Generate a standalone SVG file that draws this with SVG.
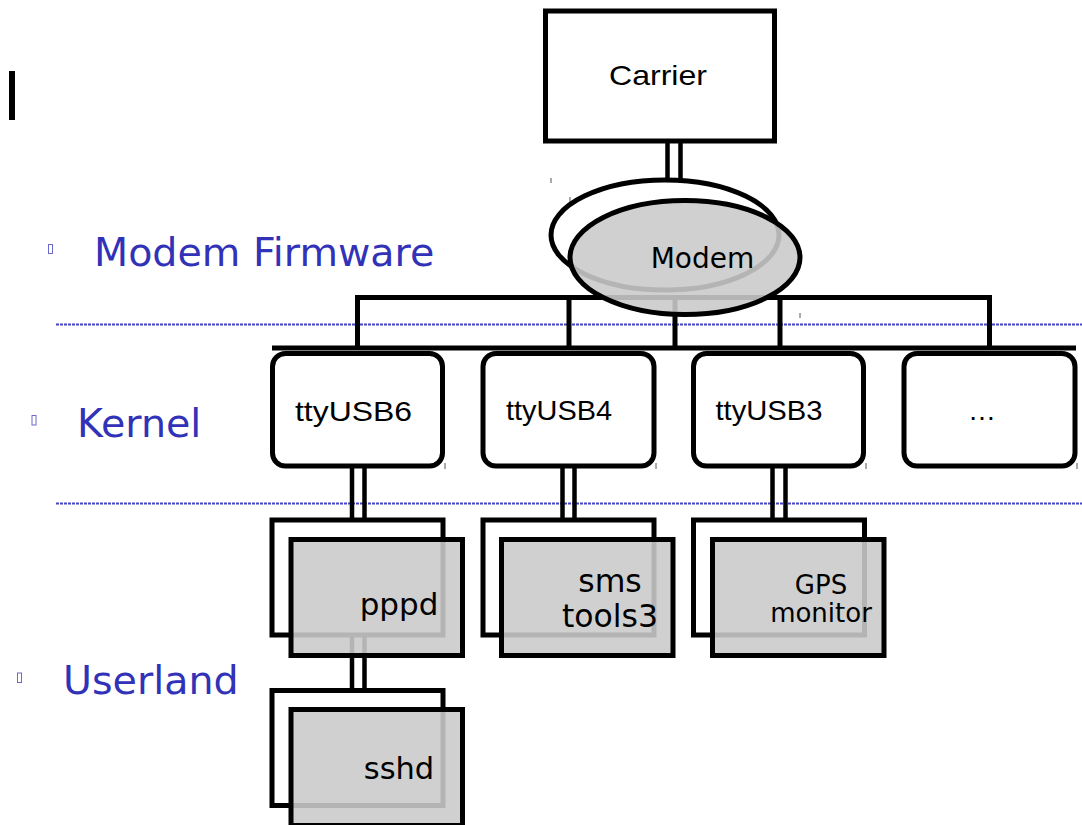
<svg xmlns="http://www.w3.org/2000/svg" width="1082" height="825" viewBox="0 0 1082 825">
<style>
.lbl{font-family:"DejaVu Sans",sans-serif;fill:#3232b8;font-size:39.6px}
.bul{fill:none;stroke:#6a6ad0;stroke-width:1}
.sep{stroke:#4646c4;stroke-width:2;stroke-dasharray:3 1;fill:none}
.ln{stroke:#000;stroke-width:5;fill:none}
.dl{stroke:#000;stroke-width:4.5;fill:none}
.box{fill:#fff;stroke:#000;stroke-width:5}
.back{fill:#fff;stroke:#000;stroke-width:5}
.front{fill:#cacaca;fill-opacity:0.89;stroke:#000;stroke-width:5}
.ta{font-family:"Liberation Sans",Arial,sans-serif;font-size:28px;fill:#000}
.td{font-family:"DejaVu Sans",sans-serif;fill:#000}
.tick{stroke:#555;stroke-width:1}
</style>
<rect x="0" y="0" width="1082" height="825" fill="#fff"/>
<rect x="9" y="71" width="6" height="49" fill="#000"/>
<g id="separators">
<line class="sep" x1="56" y1="324.5" x2="1082" y2="324.5"/>
<line class="sep" x1="56" y1="503.5" x2="1082" y2="503.5"/>
</g>
<g id="labels">
<rect class="bul" x="48.5" y="244.5" width="4" height="9"/>
<text class="lbl" x="94" y="266">Modem Firmware</text>
<rect class="bul" x="32" y="415.5" width="4" height="9.5"/>
<text class="lbl" x="77" y="437">Kernel</text>
<rect class="bul" x="17.5" y="673" width="4" height="9.5"/>
<text class="lbl" x="63" y="694">Userland</text>
</g>
<g id="ticks">
<line class="tick" x1="551" y1="178" x2="551" y2="183"/>
<line class="tick" x1="570" y1="197" x2="570" y2="202"/>
<line class="tick" x1="800" y1="313" x2="800" y2="318"/>
<line class="tick" x1="445" y1="463" x2="445" y2="469"/>
<line class="tick" x1="656" y1="463" x2="656" y2="469"/>
<line class="tick" x1="866" y1="463" x2="866" y2="469"/>
<line class="tick" x1="1077" y1="463" x2="1077" y2="469"/>
</g>
<g id="carrier">
<rect class="box" x="545.5" y="11" width="229" height="130" stroke-width="4.5"/>
<text class="ta" x="609" y="85" textLength="98" lengthAdjust="spacingAndGlyphs">Carrier</text>
</g>
<g id="connectors">
<line class="dl" x1="667.5" y1="141" x2="667.5" y2="180"/>
<line class="dl" x1="680.5" y1="141" x2="680.5" y2="180"/>
<polyline class="ln" points="357.5,348 357.5,297.5 989.5,297.5 989.5,348"/>
<line class="ln" x1="569" y1="297.5" x2="569" y2="348"/>
<line class="ln" x1="675" y1="297.5" x2="675" y2="348"/>
<line class="ln" x1="780" y1="297.5" x2="780" y2="348"/>
<line class="ln" x1="272" y1="348" x2="1076" y2="348"/>
<line class="dl" x1="352" y1="466" x2="352" y2="520"/>
<line class="dl" x1="364.5" y1="466" x2="364.5" y2="520"/>
<line class="dl" x1="562.5" y1="466" x2="562.5" y2="520"/>
<line class="dl" x1="574.5" y1="466" x2="574.5" y2="520"/>
<line class="dl" x1="772.5" y1="466" x2="772.5" y2="520"/>
<line class="dl" x1="785.5" y1="466" x2="785.5" y2="520"/>
<line class="dl" x1="352" y1="635" x2="352" y2="690.5"/>
<line class="dl" x1="364.5" y1="635" x2="364.5" y2="690.5"/>
</g>
<g id="modem">
<ellipse class="back" cx="665" cy="235" rx="114" ry="55"/>
<ellipse class="front" cx="685" cy="257.5" rx="115" ry="57"/>
<text class="td" x="702.5" y="268" font-size="28" text-anchor="middle">Modem</text>
</g>
<g id="ttyUSB6">
<rect class="box" x="272.5" y="353.5" width="170" height="112.5" rx="13"/>
<text class="ta" x="295" y="421" textLength="117" lengthAdjust="spacingAndGlyphs">ttyUSB6</text>
</g>
<g id="ttyUSB4">
<rect class="box" x="483" y="353.5" width="171" height="112.5" rx="13"/>
<text class="ta" x="506" y="420" textLength="106" lengthAdjust="spacingAndGlyphs">ttyUSB4</text>
</g>
<g id="ttyUSB3">
<rect class="box" x="693.5" y="353.5" width="170" height="112.5" rx="13"/>
<text class="ta" x="715.5" y="420" textLength="107" lengthAdjust="spacingAndGlyphs">ttyUSB3</text>
</g>
<g id="more">
<rect class="box" x="904" y="353.5" width="171" height="112.5" rx="13"/>
<text class="ta" x="982" y="420" text-anchor="middle">…</text>
</g>
<g id="pppd">
<rect class="back" x="272" y="520" width="171" height="115"/>
<rect class="front" x="291" y="539.5" width="171.5" height="116"/>
<text class="td" x="399" y="615" font-size="31" text-anchor="middle">pppd</text>
</g>
<g id="smstools3">
<rect class="back" x="483" y="520" width="171" height="115"/>
<rect class="front" x="501.5" y="539.5" width="171.5" height="116"/>
<text class="td" x="610" y="592" font-size="31.5" text-anchor="middle">sms</text>
<text class="td" x="610" y="627" font-size="31.5" text-anchor="middle">tools3</text>
</g>
<g id="gpsmonitor">
<rect class="back" x="693.5" y="520" width="171" height="115"/>
<rect class="front" x="712.5" y="539.5" width="171.5" height="116"/>
<text class="td" x="821" y="593.5" font-size="26" text-anchor="middle">GPS</text>
<text class="td" x="821" y="622" font-size="26" text-anchor="middle">monitor</text>
</g>
<g id="sshd">
<rect class="back" x="272" y="690.5" width="171" height="115"/>
<rect class="front" x="291" y="709.5" width="171.5" height="116"/>
<text class="td" x="399" y="778.5" font-size="30.5" text-anchor="middle">sshd</text>
</g>
</svg>
